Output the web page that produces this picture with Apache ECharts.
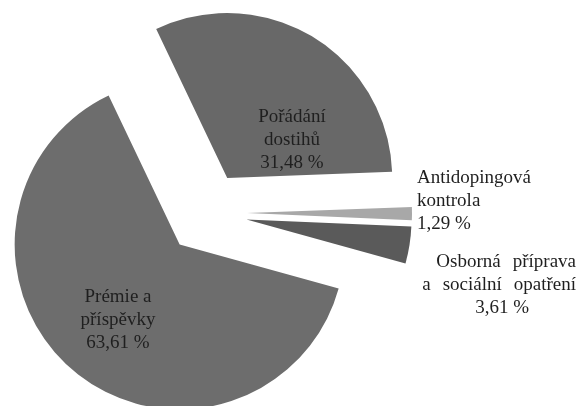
<!DOCTYPE html>
<html><head><meta charset="utf-8">
<script src="https://cdn.jsdelivr.net/npm/echarts@6/dist/echarts.min.js"></script>
<style>html,body{margin:0;padding:0;background:#fff}#c{width:576px;height:406px}</style>
</head><body><div id="c"></div>
<script>
const categories = ['Pořádání\ndostihů', 'Antidopingová\nkontrola', 'Osborná příprava\na sociální opatření', 'Prémie a\npříspěvky'];
const values = [31.48, 1.29, 3.61, 63.61];
const colors = ['#686868', '#a8a8a8', '#5a5a5a', '#6d6d6d'];
const labelPlace = [
  {x: 292, y: 140, align: 'center'},
  {x: 417, y: 201, align: 'left'},
  {x: 576, y: 285, align: 'right'},
  {x: 118, y: 320, align: 'center'}
];
const justified = [false, false, true, false];
const pieCenter = [206, 213];
const pieRadius = 165;
const startAngle = 115.5;
const explode = 41;

const font = {fontFamily: 'Liberation Serif', fontSize: 19, lineHeight: 23, color: '#1f1f1f'};
const fmtPct = v => v.toFixed(2).replace('.', ',') + ' %';

const chart = echarts.init(document.getElementById('c'), null, {renderer: 'canvas'});
const total = values.reduce((a, b) => a + b, 0);
let acc = 0;
const series = values.map((v, i) => {
  const mid = (startAngle - (acc + v / 2) / total * 360) * Math.PI / 180;
  acc += v;
  const c = [pieCenter[0] + explode * Math.cos(mid), pieCenter[1] - explode * Math.sin(mid)];
  return {
    type: 'pie',
    center: c,
    radius: pieRadius,
    startAngle: startAngle,
    clockwise: true,
    avoidLabelOverlap: false,
    emphasis: {disabled: true},
    silent: true,
    data: categories.map((n, j) => ({
      name: n, value: values[j],
      itemStyle: {color: j === i ? colors[j] : 'rgba(0,0,0,0)'},
      label: {show: j === i}
    })),
    label: Object.assign({
      position: 'outside',
      formatter: p => {
        if (!justified[p.dataIndex]) return p.name + '\n' + fmtPct(p.value);
        return p.name.split('\n').map(line => line.split(' ').join('{g| }')).join('\n') +
          '\n{p|' + fmtPct(p.value) + '}';
      },
      rich: {
        g: Object.assign({width: 12}, font),
        p: Object.assign({padding: [0, 47, 0, 0]}, font)
      }
    }, font),
    labelLine: {show: false},
    labelLayout: p => ({
      x: labelPlace[p.dataIndex].x,
      y: labelPlace[p.dataIndex].y,
      align: labelPlace[p.dataIndex].align,
      verticalAlign: 'middle'
    })
  };
});
chart.setOption({animation: false, series: series});
</script></body></html>
